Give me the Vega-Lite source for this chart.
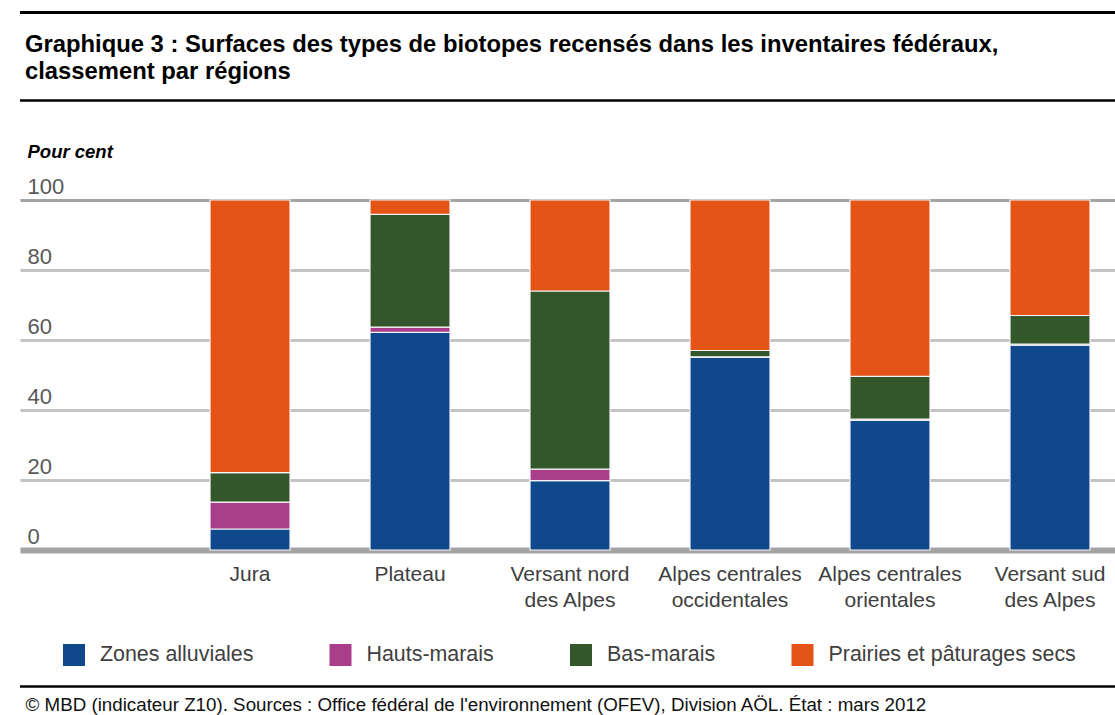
{
  "$schema": "https://vega.github.io/schema/vega-lite/v6.json",
  "width": 1095,
  "height": 350,
  "autosize": {"type": "none"},
  "padding": {"left": 20, "top": 200, "right": 0, "bottom": 165},
  "background": "white",
  "config": {
    "font": "Liberation Sans",
    "view": {"stroke": null}
  },
  "title": {
    "text": ["Graphique 3 : Surfaces des types de biotopes recensés dans les inventaires fédéraux,", "classement par régions"],
    "anchor": "start",
    "frame": "group",
    "fontSize": 23.8,
    "fontWeight": "bold",
    "font": "Liberation Sans",
    "color": "#000000",
    "lineHeight": 27,
    "dx": 5,
    "offset": -73
  },
  "datasets": {
    "biotopes": [
      {"region": "Jura", "type": "Zones alluviales", "k": 1, "value": 6.0},
      {"region": "Jura", "type": "Hauts-marais", "k": 2, "value": 7.7},
      {"region": "Jura", "type": "Bas-marais", "k": 3, "value": 8.4},
      {"region": "Jura", "type": "Prairies et pâturages secs", "k": 4, "value": 77.9},
      {"region": "Plateau", "type": "Zones alluviales", "k": 1, "value": 62.2},
      {"region": "Plateau", "type": "Hauts-marais", "k": 2, "value": 1.5},
      {"region": "Plateau", "type": "Bas-marais", "k": 3, "value": 32.2},
      {"region": "Plateau", "type": "Prairies et pâturages secs", "k": 4, "value": 4.1},
      {"region": "Versant nord des Alpes", "type": "Zones alluviales", "k": 1, "value": 19.8},
      {"region": "Versant nord des Alpes", "type": "Hauts-marais", "k": 2, "value": 3.3},
      {"region": "Versant nord des Alpes", "type": "Bas-marais", "k": 3, "value": 50.9},
      {"region": "Versant nord des Alpes", "type": "Prairies et pâturages secs", "k": 4, "value": 26.0},
      {"region": "Alpes centrales occidentales", "type": "Zones alluviales", "k": 1, "value": 55.0},
      {"region": "Alpes centrales occidentales", "type": "Hauts-marais", "k": 2, "value": 0.2},
      {"region": "Alpes centrales occidentales", "type": "Bas-marais", "k": 3, "value": 1.8},
      {"region": "Alpes centrales occidentales", "type": "Prairies et pâturages secs", "k": 4, "value": 43.0},
      {"region": "Alpes centrales orientales", "type": "Zones alluviales", "k": 1, "value": 37.0},
      {"region": "Alpes centrales orientales", "type": "Hauts-marais", "k": 2, "value": 0.4},
      {"region": "Alpes centrales orientales", "type": "Bas-marais", "k": 3, "value": 12.2},
      {"region": "Alpes centrales orientales", "type": "Prairies et pâturages secs", "k": 4, "value": 50.4},
      {"region": "Versant sud des Alpes", "type": "Zones alluviales", "k": 1, "value": 58.5},
      {"region": "Versant sud des Alpes", "type": "Hauts-marais", "k": 2, "value": 0.3},
      {"region": "Versant sud des Alpes", "type": "Bas-marais", "k": 3, "value": 8.2},
      {"region": "Versant sud des Alpes", "type": "Prairies et pâturages secs", "k": 4, "value": 33.0}
    ],
    "frame": [
      {"edge": "haut", "pos": 153.6, "w": 3},
      {"edge": "titre", "pos": 128.4, "w": 2.5},
      {"edge": "pied", "pos": -39.0, "w": 2.5}
    ]
  },
  "layer": [
    {
      "data": {"name": "biotopes"},
      "mark": {"type": "bar", "stroke": "#f4f4f8", "strokeWidth": 1.2},
      "encoding": {
        "x": {
          "field": "region",
          "type": "nominal",
          "sort": null,
          "scale": {"paddingInner": 0.5, "paddingOuter": 0.672, "align": 0.8837},
          "axis": {
            "title": "© MBD (indicateur Z10). Sources : Office fédéral de l'environnement (OFEV), Division AÖL. État : mars 2012",
            "titleFontSize": 18.75,
            "titleFontWeight": "normal",
            "titleColor": "#111111",
            "titleAlign": "left",
            "titleAnchor": "start",
            "titleBaseline": "alphabetic",
            "titleX": 5,
            "titleY": 160,
            "domain": false,
            "ticks": false,
            "labelAngle": 0,
            "labelFontSize": 21,
            "labelColor": "#404040",
            "labelPadding": 13,
            "labelLineHeight": 26,
            "labelBaseline": "top",
            "labelExpr": "split(replace(datum.label, regexp(' (des|occidentales|orientales)'), '|$1'), '|')"
          }
        },
        "y": {
          "field": "value",
          "type": "quantitative",
          "stack": "zero",
          "scale": {"domain": [0, 100], "nice": false, "zero": true},
          "axis": {
            "title": "Pour cent",
            "titleAngle": 0,
            "titleAlign": "left",
            "titleBaseline": "alphabetic",
            "titleX": 7,
            "titleY": -43,
            "titleFontSize": 18.5,
            "titleFontStyle": "italic",
            "titleFontWeight": "bold",
            "titleColor": "#000000",
            "values": [0, 20, 40, 60, 80, 100],
            "domain": false,
            "ticks": false,
            "tickSize": 0,
            "labelAlign": "left",
            "labelBaseline": "alphabetic",
            "labelPadding": -7,
            "labelOffset": -7,
            "labelFlush": false,
            "labelOverlap": false,
            "labelBound": false,
            "labelFontSize": 22,
            "labelColor": "#595959",
            "grid": true,
            "gridColor": {"condition": {"test": "datum.value === 0 || datum.value === 100", "value": "#a3a3a3"}, "value": "#c4c4c4"},
            "gridWidth": {"condition": {"test": "datum.value === 0", "value": 6}, "value": 3}
          }
        },
        "color": {
          "field": "type",
          "type": "nominal",
          "scale": {
            "domain": ["Zones alluviales", "Hauts-marais", "Bas-marais", "Prairies et pâturages secs"],
            "range": ["#10488c", "#aa3e8a", "#33572a", "#e45416"]
          },
          "legend": {
            "title": null,
            "orient": "none",
            "legendX": 43,
            "legendY": 444,
            "direction": "horizontal",
            "columns": 4,
            "columnPadding": 75.5,
            "padding": 0,
            "symbolType": "square",
            "symbolSize": 484,
            "symbolStrokeWidth": 0,
            "symbolOpacity": 1,
            "labelFontSize": 21.4,
            "labelColor": "#404040",
            "labelOffset": 15,
            "labelLimit": 400
          }
        },
        "order": {"field": "k", "type": "quantitative"}
      }
    },
    {
      "data": {"name": "frame"},
      "mark": {"type": "rule", "color": "#000000", "clip": false},
      "encoding": {
        "y": {"field": "pos", "type": "quantitative"},
        "strokeWidth": {"field": "w", "type": "quantitative", "scale": null}
      }
    }
  ]
}
